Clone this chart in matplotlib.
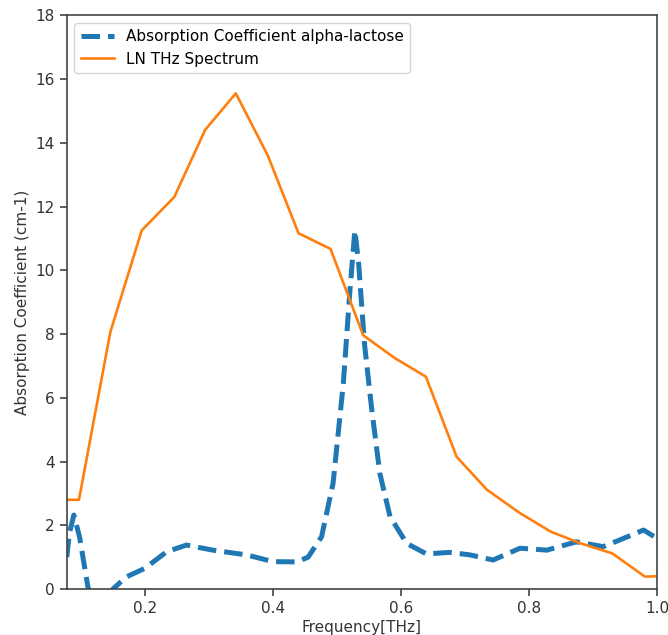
import matplotlib
matplotlib.use("Agg")
import matplotlib.pyplot as plt

# LN THz Spectrum (orange)
ln_freq = [0.078, 0.097, 0.146, 0.195, 0.246, 0.294, 0.342, 0.392, 0.440, 0.490,
           0.541, 0.590, 0.639, 0.687, 0.734, 0.786, 0.834, 0.881, 0.930, 0.981, 1.0]
ln_abs = [2.8, 2.8, 8.06, 11.25, 12.3, 14.4, 15.55, 13.6, 11.16, 10.67,
          7.96, 7.25, 6.66, 4.15, 3.12, 2.38, 1.80, 1.43, 1.12, 0.39, 0.40]

# Absorption Coefficient alpha-lactose (blue dashed)
lac_freq = [0.078, 0.082, 0.089, 0.098, 0.111, 0.125, 0.140, 0.150, 0.171, 0.200,
            0.234, 0.265, 0.306, 0.359, 0.400, 0.437, 0.455, 0.476, 0.494, 0.510,
            0.520, 0.528, 0.534, 0.543, 0.554, 0.567, 0.583, 0.609, 0.640, 0.676,
            0.708, 0.744, 0.786, 0.828, 0.874, 0.916, 0.942, 0.979, 1.0]
lac_abs = [1.0, 1.75, 2.32, 1.63, 0.06, -0.6, -0.5, 0.0, 0.38, 0.65,
           1.17, 1.38, 1.22, 1.07, 0.86, 0.85, 1.0, 1.64, 3.32, 6.45,
           9.28, 11.25, 10.2, 7.7, 5.7, 3.63, 2.27, 1.43, 1.1, 1.15,
           1.07, 0.91, 1.28, 1.22, 1.48, 1.33, 1.54, 1.85, 1.59]

fig = plt.figure(figsize=(6.68, 6.35), dpi=100)
ax = fig.add_axes([0.100, 0.0724, 0.8835, 0.9036])

ax.plot(lac_freq, lac_abs, linestyle='--', color='#1f77b4', linewidth=3.6,
        label='Absorption Coefficient alpha-lactose')
ax.plot(ln_freq, ln_abs, color='#ff7f0e', linewidth=1.9, label='LN THz Spectrum')

ax.set_xlim(0.078, 1.0)
ax.set_ylim(0, 18)
ax.set_xticks([0.2, 0.4, 0.6, 0.8, 1.0])
ax.set_yticks(range(0, 19, 2))
ax.tick_params(labelsize=11, length=5, width=1.1, colors='#333333')
for s in ax.spines.values():
    s.set_linewidth(1.2)
    s.set_color('#444444')
ax.set_xlabel('Frequency[THz]', fontsize=11, labelpad=3, color='#333333')
ax.set_ylabel('Absorption Coefficient (cm-1)', fontsize=11, color='#333333')
ax.legend(loc='upper left', fontsize=11, handlelength=2.2)

fig.savefig('out.png', dpi=100)
